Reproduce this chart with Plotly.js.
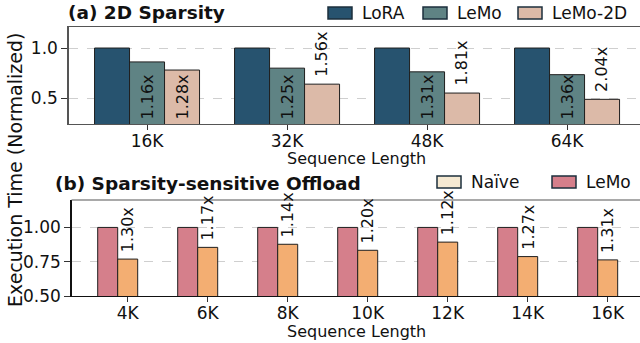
<!DOCTYPE html>
<html>
<head>
<meta charset="utf-8">
<script src="https://cdn.plot.ly/plotly-3.0.1.min.js"></script>
<style>
  html, body { margin: 0; padding: 0; overflow: hidden; background: #fff; }
  #chart { width: 640px; height: 343px; }
</style>
</head>
<body>
<div id="chart"></div>
<script>
// (a) 2D sparsity: sequence lengths and speedups over LoRA
const seqLenA = ['16K', '32K', '48K', '64K'];
const loraTime = [1.0, 1.0, 1.0, 1.0];
const lemoSpeedupA = [1.16, 1.25, 1.31, 1.36];
const lemo2dSpeedup = [1.28, 1.56, 1.81, 2.04];
const lemo2dLabelInside = [true, false, false, false];

// (b) sparsity-sensitive offload: sequence lengths and speedups over the naive baseline
const seqLenB = ['4K', '6K', '8K', '10K', '12K', '14K', '16K'];
const naiveTime = [1.0, 1.0, 1.0, 1.0, 1.0, 1.0, 1.0];
const lemoSpeedupB = [1.30, 1.17, 1.14, 1.20, 1.12, 1.27, 1.31];

const W = 640, H = 343;
const FONT = 'DejaVu Sans, Liberation Sans, sans-serif';
const px = x => x / W;
const py = y => 1 - y / H;

// normalized execution time is the reciprocal of the stated speedup
const toTime = s => 1 / s;
const label = s => s.toFixed(2) + 'x';

// bar slots inside each category: width and left offsets
const BAR_W = 0.25;
const SLOT = [-0.375, -0.125, 0.125];

const YMIN_A = 0.245, YMAX_A = 1.209;
const YMIN_B = 0.5, YMAX_B = 1.2;

const edge = { color: '#1f1f1f', width: 1 };

const traces = [
  { type: 'bar', x: seqLenA, y: loraTime, xaxis: 'x', yaxis: 'y',
    offset: SLOT[0], width: BAR_W, marker: { color: '#27536f', line: edge }, hoverinfo: 'skip' },
  { type: 'bar', x: seqLenA, y: lemoSpeedupA.map(toTime), xaxis: 'x', yaxis: 'y',
    offset: SLOT[1], width: BAR_W, marker: { color: '#5f8384', line: edge }, hoverinfo: 'skip' },
  { type: 'bar', x: seqLenA, y: lemo2dSpeedup.map(toTime), xaxis: 'x', yaxis: 'y',
    offset: SLOT[2], width: BAR_W, marker: { color: '#dcbaa8', line: edge }, hoverinfo: 'skip' },
  { type: 'bar', x: seqLenB, y: naiveTime, xaxis: 'x2', yaxis: 'y2',
    offset: SLOT[0], width: BAR_W, marker: { color: '#d57f8b', line: edge }, hoverinfo: 'skip' },
  { type: 'bar', x: seqLenB, y: lemoSpeedupB.map(toTime), xaxis: 'x2', yaxis: 'y2',
    offset: SLOT[1], width: BAR_W, marker: { color: '#f3ae72', line: edge }, hoverinfo: 'skip' }
];

const tickFont = { family: FONT, size: 17, color: '#111' };
const gridDash = { gridcolor: '#cfcfcf', griddash: 'dash', gridwidth: 1 };

const layout = {
  width: W, height: H,
  margin: { l: 0, r: 0, t: 0, b: 0 },
  paper_bgcolor: '#fff', plot_bgcolor: '#fff',
  showlegend: false,
  barmode: 'overlay',
  font: { family: FONT, size: 16, color: '#111' },
  xaxis: {
    domain: [px(68.5), 1], range: [-0.561, 3.521], type: 'category',
    showline: true, linecolor: '#555', linewidth: 1.2, mirror: true,
    ticks: 'outside', ticklen: 5, tickcolor: '#333', tickfont: tickFont, ticklabelstandoff: -4,
    showgrid: false, zeroline: false, fixedrange: true, anchor: 'y'
  },
  yaxis: {
    domain: [py(124), py(27)], range: [YMIN_A, YMAX_A],
    tickvals: [0.5, 1.0], ticktext: ['0.5', '1.0'],
    showline: true, linecolor: '#555', linewidth: 1.2,
    ticks: 'outside', ticklen: 6, tickcolor: '#333', tickfont: tickFont,
    showgrid: true, ...gridDash, zeroline: false, fixedrange: true, anchor: 'x'
  },
  xaxis2: {
    domain: [px(71.5), 1], range: [-0.7025, 6.404], type: 'category',
    showline: true, linecolor: '#111', linewidth: 1.2,
    ticks: 'outside', ticklen: 5, tickcolor: '#333', tickfont: tickFont, ticklabelstandoff: -4,
    showgrid: false, zeroline: false, fixedrange: true, anchor: 'y2'
  },
  yaxis2: {
    domain: [py(296), py(200)], range: [YMIN_B, YMAX_B],
    tickvals: [0.5, 0.75, 1.0], ticktext: ['0.50', '0.75', '1.00'],
    showline: true, linecolor: '#111', linewidth: 1.2,
    ticks: 'outside', ticklen: 6, tickcolor: '#333', tickfont: tickFont,
    showgrid: true, ...gridDash, zeroline: false, fixedrange: true, anchor: 'x2'
  },
  shapes: [
    // top border of panel (b)
    { type: 'line', xref: 'x2 domain', yref: 'y2 domain', x0: 0, x1: 1, y0: 1, y1: 1,
      line: { color: '#555', width: 1.2 } }
  ],
  annotations: [
    { text: '<b>(a) 2D Sparsity</b>', xref: 'paper', yref: 'paper', x: px(66), y: py(13),
      xanchor: 'left', yanchor: 'middle', showarrow: false,
      font: { family: FONT, size: 18.5, color: '#111' } },
    { text: '<b>(b) Sparsity-sensitive Offload</b>', xref: 'paper', yref: 'paper', x: px(53), y: py(183),
      xanchor: 'left', yanchor: 'middle', showarrow: false,
      font: { family: FONT, size: 18.5, color: '#111' } },
    { text: 'Execution Time (Normalized)', xref: 'paper', yref: 'paper', x: px(15), y: py(170),
      xanchor: 'center', yanchor: 'middle', textangle: -90, showarrow: false,
      font: { family: FONT, size: 19, color: '#111' } },
    { text: 'Sequence Length', xref: 'paper', yref: 'paper', x: px(356), y: py(158),
      xanchor: 'center', yanchor: 'middle', showarrow: false,
      font: { family: FONT, size: 16, color: '#111' } },
    { text: 'Sequence Length', xref: 'paper', yref: 'paper', x: px(356), y: py(331),
      xanchor: 'center', yanchor: 'middle', showarrow: false,
      font: { family: FONT, size: 16, color: '#111' } }
  ]
};

// rotated speedup labels: inside labels sit on the axis floor, outside ones above the bar
const labelFont = { family: FONT, size: 16, color: '#111' };
function addLabel(xa, ya, i, slot, value, inside, floor) {
  layout.annotations.push({
    text: label(value), xref: xa, yref: ya,
    x: i + SLOT[slot] + BAR_W / 2,
    y: inside ? floor : toTime(value),
    yshift: inside ? 2 : 5,
    xanchor: 'center', yanchor: 'bottom', textangle: -90, showarrow: false,
    font: labelFont
  });
}
lemoSpeedupA.forEach((s, i) => addLabel('x', 'y', i, 1, s, true, YMIN_A));
lemo2dSpeedup.forEach((s, i) => addLabel('x', 'y', i, 2, s, lemo2dLabelInside[i], YMIN_A));
lemoSpeedupB.forEach((s, i) => addLabel('x2', 'y2', i, 1, s, false, YMIN_B));

// legend swatches drawn beside each panel title
const legendItems = [
  { name: 'LoRA', color: '#27536f', x: 328, y: 13 },
  { name: 'LeMo', color: '#5f8384', x: 423, y: 13 },
  { name: 'LeMo-2D', color: '#dcbaa8', x: 518, y: 13 },
  { name: 'Naïve', color: '#f5e9d2', x: 437, y: 182 },
  { name: 'LeMo', color: '#d57f8b', x: 552, y: 182 }
];
legendItems.forEach(it => {
  layout.shapes.push({
    type: 'rect', xref: 'paper', yref: 'paper',
    x0: px(it.x), x1: px(it.x + 24), y0: py(it.y + 6), y1: py(it.y - 6),
    fillcolor: it.color, line: { color: '#1c2f3d', width: 1.5 }
  });
  layout.annotations.push({
    text: it.name, xref: 'paper', yref: 'paper', x: px(it.x + 32), y: py(it.y),
    xanchor: 'left', yanchor: 'middle', showarrow: false,
    font: { family: FONT, size: 17, color: '#111' }
  });
});

Plotly.newPlot('chart', traces, layout, { staticPlot: true, displayModeBar: false });
</script>
</body>
</html>
